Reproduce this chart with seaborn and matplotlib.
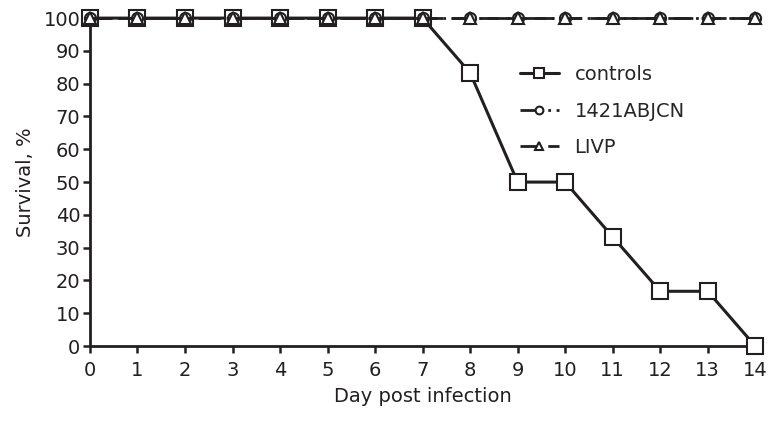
import matplotlib
matplotlib.use('Agg')
import matplotlib.pyplot as plt
import pandas as pd
import seaborn as sns

days = list(range(15))
controls = [100, 100, 100, 100, 100, 100, 100, 100, 83.3, 50, 50, 33.3, 16.7, 16.7, 0]
abjcn = [100] * 15
livp = [100] * 15

sns.set_style('white')
plt.rcParams['font.family'] = ['DejaVu Sans']

fig = plt.figure(figsize=(7.79, 4.21), dpi=100)
ax = fig.add_axes([0.1155, 0.178, 0.854, 0.779])

df = pd.DataFrame({'day': days, 'controls': controls, '1421ABJCN': abjcn, 'LIVP': livp})

dark = '#231f20'
sns.lineplot(data=df, x='day', y='controls', ax=ax, color=dark, lw=2.2, marker='s',
             markersize=11, markerfacecolor='white', markeredgecolor=dark, markeredgewidth=1.5,
             label='controls', clip_on=False, zorder=3)
sns.lineplot(data=df, x='day', y='1421ABJCN', ax=ax, color=dark, lw=2.0, marker='o',
             markersize=8, markerfacecolor='white', markeredgecolor=dark, markeredgewidth=1.5,
             linestyle=(0, (8, 2, 1, 2)), label='1421ABJCN', clip_on=False, zorder=4)
sns.lineplot(data=df, x='day', y='LIVP', ax=ax, color=dark, lw=2.0, marker='^',
             markersize=8, markerfacecolor='white', markeredgecolor=dark, markeredgewidth=1.5,
             linestyle=(0, (7, 3)), label='LIVP', clip_on=False, zorder=5)

ax.set_xlim(0, 14)
ax.set_ylim(0, 100)
ax.set_xticks(days)
ax.set_yticks(range(0, 101, 10))
ax.tick_params(axis='both', labelsize=14, colors=dark, direction='out', length=5, width=1.8,
               bottom=True, left=True)
ax.tick_params(axis='x', pad=6)
ax.tick_params(axis='y', pad=2)
for side in ['top', 'right']:
    ax.spines[side].set_visible(False)
for side in ['left', 'bottom']:
    ax.spines[side].set_color(dark)
    ax.spines[side].set_linewidth(2.0)

ax.set_xlabel('Day post infection', fontsize=14, color=dark, labelpad=5)
ax.set_ylabel('Survival, %', fontsize=14, color=dark, labelpad=6)

leg = ax.legend(loc='upper left', bbox_to_anchor=(0.62, 0.91), frameon=False, fontsize=14,
                handlelength=2.0, handletextpad=0.8, labelspacing=0.9, markerscale=0.7)

fig.savefig('out.png', dpi=100)
